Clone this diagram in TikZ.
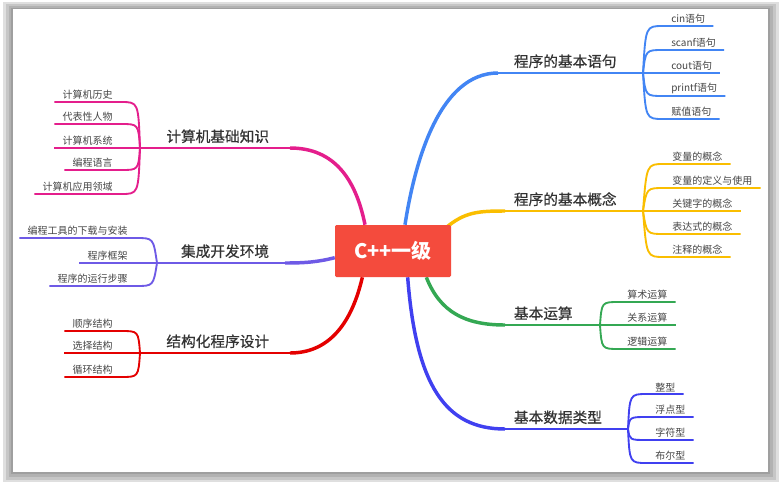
\documentclass[tikz,border=0pt]{standalone}
\usepackage{fontspec}
\setmainfont{Noto Sans CJK SC}
\newfontfamily\topicfont[FakeBold=0.5]{Noto Sans CJK SC}
\usetikzlibrary{backgrounds}

\definecolor{cppred}{RGB}{244,75,61}
\definecolor{yujublue}{RGB}{66,133,244}
\definecolor{gainianyellow}{RGB}{250,190,0}
\definecolor{yunsuangreen}{RGB}{52,168,83}
\definecolor{shujuviolet}{RGB}{64,64,240}
\definecolor{jichumagenta}{RGB}{228,30,140}
\definecolor{idepurple}{RGB}{110,90,230}
\definecolor{jiegoured}{RGB}{228,0,0}
\definecolor{topictext}{RGB}{51,51,51}
\definecolor{leaftext}{RGB}{70,70,70}

\tikzset{
  centre/.style={fill=cppred, text=white, font=\bfseries\fontsize{15}{18}\selectfont,
    minimum width=87pt, minimum height=39pt, rounded corners=1pt, inner sep=0pt},
  topic/.style={text=topictext, font=\topicfont\fontsize{11}{13}\selectfont, inner sep=2pt},
  leaf/.style={text=leaftext, font=\fontsize{7.5}{9}\selectfont, inner xsep=6pt, inner ysep=1.5pt},
  trunk/.style={line width=2.6pt},
  limb/.style={line width=2pt},
  twig/.style={line width=1.4pt},
}

\begin{document}
\begin{tikzpicture}[x=0.75pt,y=-0.75pt]
\useasboundingbox (0,0) rectangle (781,483);

% centre
\node[centre] (cpp) at (393,251) {C++一级};

% topics
\node[topic, anchor=south west] (yuju) at (511,71) {程序的基本语句};
\node[topic, anchor=south west] (gainian) at (511,209) {程序的基本概念};
\node[topic, anchor=south west] (yunsuan) at (511,323) {基本运算};
\node[topic, anchor=south west] (shuju) at (511,427) {基本数据类型};
\node[topic, anchor=south east] (jichu) at (272,146) {计算机基础知识};
\node[topic, anchor=south east] (ide) at (272,261) {集成开发环境};
\node[topic, anchor=south east] (jiegou) at (272,351) {结构化程序设计};

\coordinate (yujuIn) at (498,73);    \coordinate (yujuFan) at (643,73);
\coordinate (gainianIn) at (505,211); \coordinate (gainianFan) at (643,211);
\coordinate (yunsuanIn) at (505,325); \coordinate (yunsuanFan) at (600,325);
\coordinate (shujuIn) at (505,429);  \coordinate (shujuFan) at (628,429);
\coordinate (jichuIn) at (290,148);  \coordinate (jichuFan) at (140,148);
\coordinate (ideIn) at (285,263);    \coordinate (ideFan) at (157,263);
\coordinate (jiegouIn) at (290,353); \coordinate (jiegouFan) at (140,353);

% leaves, right side
\foreach \y/\t [count=\i] in {26/cin语句, 50/scanf语句, 73/cout语句, 96/printf语句, 119/赋值语句}
  \node[leaf, anchor=south west] (yuju\i) at (663,\y) {\t};
\foreach \y/\t [count=\i] in {164/变量的概念, 188/变量的定义与使用, 211/关键字的概念, 234/表达式的概念, 257/注释的概念}
  \node[leaf, anchor=south west] (gainian\i) at (664,\y) {\t};
\foreach \y/\t [count=\i] in {302/算术运算, 325/关系运算, 349/逻辑运算}
  \node[leaf, anchor=south west] (yunsuan\i) at (619,\y) {\t};
\foreach \y/\t [count=\i] in {394/整型, 417/浮点型, 440/字符型, 463/布尔型}
  \node[leaf, anchor=south west] (shuju\i) at (647,\y) {\t};

% leaves, left side
\foreach \y/\t [count=\i] in {102/计算机历史, 124/代表性人物, 148/计算机系统, 170/编程语言, 194/计算机应用领域}
  \node[leaf, anchor=south east] (jichu\i) at (121,\y) {\t};
\foreach \y/\t [count=\i] in {238/编程工具的下载与安装, 263/程序框架, 286/程序的运行步骤}
  \node[leaf, anchor=south east] (ide\i) at (136,\y) {\t};
\foreach \y/\t [count=\i] in {331/顺序结构, 353/选择结构, 377/循环结构}
  \node[leaf, anchor=south east] (jiegou\i) at (121,\y) {\t};

\begin{scope}[on background layer]
% frame
\fill[gray!25] (3,2) rectangle (779,482);
\fill[gray!45] (6,4) rectangle (776,480);
\fill[gray!60] (9,6) rectangle (773,477);
\fill[gray!75] (11,8) rectangle (770,474);
\fill[white] (13,9) rectangle (768,472);

% trunks
\draw[trunk,yujublue] ([xshift=9pt]cpp.north) .. controls (415,160) and (440,73) .. (yujuIn);
\draw[limb,yujublue] (yujuIn) -- (yujuFan);
\draw[trunk,gainianyellow] ([xshift=40pt,yshift=-2pt]cpp.north) .. controls (465,212) and (478,211) .. (gainianIn);
\draw[limb,gainianyellow] (gainianIn) -- (gainianFan);
\draw[trunk,yunsuangreen] ([xshift=25pt]cpp.south) .. controls (440,312) and (465,325) .. (yunsuanIn);
\draw[limb,yunsuangreen] (yunsuanIn) -- (yunsuanFan);
\draw[trunk,shujuviolet] ([xshift=11pt]cpp.south) .. controls (416,385) and (445,429) .. (shujuIn);
\draw[limb,shujuviolet] (shujuIn) -- (shujuFan);
\draw[trunk,jichumagenta] ([xshift=-21pt]cpp.north) .. controls (356,180) and (335,148) .. (jichuIn);
\draw[limb,jichumagenta] (jichuIn) -- (jichuFan);
\draw[trunk,idepurple] ([yshift=-5pt]cpp.west) .. controls (318,262) and (305,263) .. (ideIn);
\draw[limb,idepurple] (ideIn) -- (ideFan);
\draw[trunk,jiegoured] ([xshift=-23pt]cpp.south) .. controls (352,322) and (330,353) .. (jiegouIn);
\draw[limb,jiegoured] (jiegouIn) -- (jiegouFan);

% twigs
\foreach \i in {1,...,5}
  \draw[twig,yujublue] (yujuFan) .. controls ([xshift=-13pt]yuju\i.south west) .. (yuju\i.south west) -- (yuju\i.south east);
\foreach \i in {1,...,5}
  \draw[twig,gainianyellow] (gainianFan) .. controls ([xshift=-13pt]gainian\i.south west) .. (gainian\i.south west) -- (gainian\i.south east);
\foreach \i in {1,...,3}
  \draw[twig,yunsuangreen] (yunsuanFan) .. controls ([xshift=-13pt]yunsuan\i.south west) .. (yunsuan\i.south west) -- (yunsuan\i.south east);
\foreach \i in {1,...,4}
  \draw[twig,shujuviolet] (shujuFan) .. controls ([xshift=-13pt]shuju\i.south west) .. (shuju\i.south west) -- (shuju\i.south east);
\foreach \i in {1,...,5}
  \draw[twig,jichumagenta] (jichuFan) .. controls ([xshift=13pt]jichu\i.south east) .. (jichu\i.south east) -- (jichu\i.south west);
\foreach \i in {1,...,3}
  \draw[twig,idepurple] (ideFan) .. controls ([xshift=13pt]ide\i.south east) .. (ide\i.south east) -- (ide\i.south west);
\foreach \i in {1,...,3}
  \draw[twig,jiegoured] (jiegouFan) .. controls ([xshift=13pt]jiegou\i.south east) .. (jiegou\i.south east) -- (jiegou\i.south west);
\end{scope}
\end{tikzpicture}
\end{document}
